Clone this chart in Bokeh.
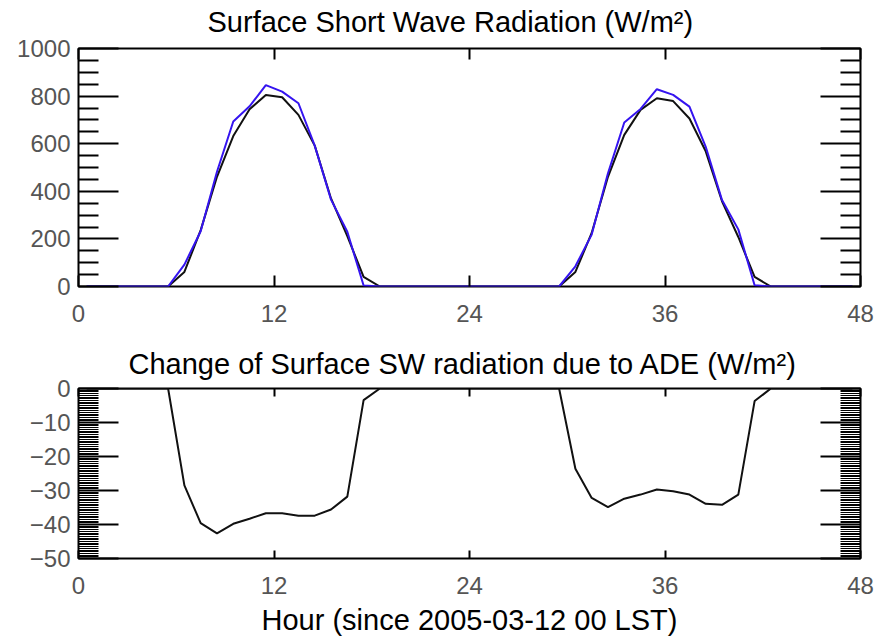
from bokeh.plotting import figure
from bokeh.layouts import column
from bokeh.models import (Range1d, FixedTicker, LinearAxis, Title,
                          CustomJSTickFormatter, CustomLabelingPolicy)
from bokeh.embed import file_html
from bokeh.resources import INLINE

# Hourly samples (centre of each hour), two days
hour = [0.5, 1.5, 2.5, 3.5, 4.5, 5.5, 6.5, 7.5, 8.5, 9.5, 10.5, 11.5,
        12.5, 13.5, 14.5, 15.5, 16.5, 17.5, 18.5, 19.5, 20.5, 21.5, 22.5, 23.5,
        24.5, 25.5, 26.5, 27.5, 28.5, 29.5, 30.5, 31.5, 32.5, 33.5, 34.5, 35.5,
        36.5, 37.5, 38.5, 39.5, 40.5, 41.5, 42.5, 43.5, 44.5, 45.5, 46.5, 47.5]

# Surface short wave radiation (W/m2), with ADE
sw_with_ade = [0, 0, 0, 0, 0, 0, 61, 237, 461, 632, 745, 805,
               795, 721, 592, 370, 212, 40, 0, 0, 0, 0, 0, 0,
               0, 0, 0, 0, 0, 0, 61, 225, 461, 637, 742, 791,
               779, 706, 568, 358, 208, 40, 0, 0, 0, 0, 0, 0]

# Surface short wave radiation (W/m2), without ADE
sw_no_ade = [0, 0, 0, 0, 0, 0, 92, 232, 482, 693, 757, 846,
             819, 770, 592, 365, 230, 4, 0, 0, 0, 0, 0, 0,
             0, 0, 0, 0, 0, 0, 85, 218, 476, 689, 746, 829,
             805, 756, 587, 363, 240, 5, 0, 0, 0, 0, 0, 0]

# Change of surface SW radiation due to ADE (W/m2)
sw_change = [0, 0, 0, 0, 0, 0, -28.5, -39.6, -42.6, -39.8, -38.3, -36.7,
             -36.7, -37.4, -37.4, -35.6, -31.8, -3.4, 0, 0, 0, 0, 0, 0,
             0, 0, 0, 0, 0, 0, -23.6, -32.2, -34.9, -32.4, -31.2, -29.7,
             -30.2, -31.2, -33.9, -34.2, -31.2, -3.7, 0, 0, 0, 0, 0, 0]

x_ticks = [0, 12, 24, 36, 48]
top_ticks = [0, 200, 400, 600, 800, 1000]
top_minor = [v for v in range(0, 1001, 50) if v % 200]
bot_ticks = [-50, -40, -30, -20, -10, 0]
bot_minor = [v / 2 for v in range(-100, 1) if v % 20]

top_title = "Surface Short Wave Radiation (W/m²)"
bot_title = "Change of Surface SW radiation due to ADE (W/m²)"
x_title = "Hour (since 2005-03-12 00 LST)"

TICK_FONT = "Liberation Sans"
TICK_COLOR = "#555555"
TEXT_FONT = "Liberation Sans"
TEXT_SIZE = "29px"

minus_fmt = CustomJSTickFormatter(
    code="return tick < 0 ? '\\u2212' + Math.abs(tick) : String(tick);")

# mirrored axes carry tick marks only
no_labels = CustomLabelingPolicy(code="""
    for (const i of indices)
        indices.unset(i)
    return indices
""")


def style_frame(p):
    p.background_fill_color = "white"
    p.border_fill_color = "white"
    p.outline_line_color = "black"
    p.outline_line_width = 2
    p.xgrid.visible = False
    p.ygrid.visible = False


def make_x_axes(p, tick_len):
    bx = p.below[0]
    bx.ticker = FixedTicker(ticks=x_ticks, minor_ticks=[])
    bx.axis_line_color = None
    bx.major_tick_in = tick_len
    bx.major_tick_out = 0
    bx.major_tick_line_width = 2
    bx.minor_tick_line_color = None
    bx.major_label_standoff = 18
    bx.major_label_text_font = TICK_FONT
    bx.major_label_text_font_size = "24px"
    bx.major_label_text_color = TICK_COLOR
    tx = LinearAxis(ticker=FixedTicker(ticks=x_ticks, minor_ticks=[]),
                    axis_line_color=None, major_tick_in=tick_len,
                    major_tick_out=0, major_tick_line_width=2,
                    minor_tick_line_color=None,
                    major_label_policy=no_labels, major_label_standoff=0)
    p.add_layout(tx, "above")
    return bx


def make_y_axes(p, ticks, minor, minor_width, formatter=None):
    ly = p.left[0]
    ly.ticker = FixedTicker(ticks=ticks, minor_ticks=minor)
    ly.axis_line_color = None
    ly.major_tick_in = 40
    ly.major_tick_out = 0
    ly.minor_tick_in = 20
    ly.minor_tick_out = 0
    ly.major_tick_line_width = 2
    ly.minor_tick_line_width = minor_width
    ly.major_label_standoff = 8
    ly.major_label_text_font = TICK_FONT
    ly.major_label_text_font_size = "24px"
    ly.major_label_text_color = TICK_COLOR
    if formatter is not None:
        ly.formatter = formatter
    ry = LinearAxis(ticker=FixedTicker(ticks=ticks, minor_ticks=minor),
                    axis_line_color=None, major_tick_in=40, major_tick_out=0,
                    minor_tick_in=20, minor_tick_out=0,
                    major_tick_line_width=2, minor_tick_line_width=minor_width,
                    major_label_policy=no_labels, major_label_standoff=0)
    p.add_layout(ry, "right")
    return ly


def make_title(text, offset, standoff):
    return Title(text=text, align="left", offset=offset,
                 text_font=TEXT_FONT, text_font_size=TEXT_SIZE,
                 text_font_style="normal", text_color="black",
                 standoff=standoff)


# --- upper panel: surface short wave radiation ---
p1 = figure(width=874, height=340, frame_width=782, frame_height=238,
            x_range=Range1d(0, 48), y_range=Range1d(0, 1000),
            output_backend="svg", toolbar_location=None,
            min_border_left=78, min_border_right=14,
            min_border_top=48, min_border_bottom=54)
style_frame(p1)
make_x_axes(p1, 11)
make_y_axes(p1, top_ticks, top_minor, 2)
p1.add_layout(make_title(top_title, 129, 0), "above")

p1.line(hour, sw_with_ade, line_color="#111111", line_width=2)
p1.line(hour, sw_no_ade, line_color="#3514f0", line_width=2)

# --- lower panel: change due to ADE ---
p2 = figure(width=874, height=298, frame_width=782, frame_height=170,
            x_range=Range1d(0, 48), y_range=Range1d(-50, 0),
            output_backend="svg", toolbar_location=None,
            min_border_left=78, min_border_right=14,
            min_border_top=48, min_border_bottom=80)
style_frame(p2)
bx2 = make_x_axes(p2, 8)
make_y_axes(p2, bot_ticks, bot_minor, 1, minus_fmt)
p2.add_layout(make_title(bot_title, 50, -4), "above")

bx2.axis_label = x_title
bx2.axis_label_text_font = TEXT_FONT
bx2.axis_label_text_font_size = TEXT_SIZE
bx2.axis_label_text_font_style = "normal"
bx2.axis_label_text_color = "black"
bx2.axis_label_standoff = 7

p2.line(hour, sw_change, line_color="#111111", line_width=2)

layout = column(p1, p2, spacing=0)

with open("out.html", "w") as f:
    f.write(file_html(layout, INLINE))
